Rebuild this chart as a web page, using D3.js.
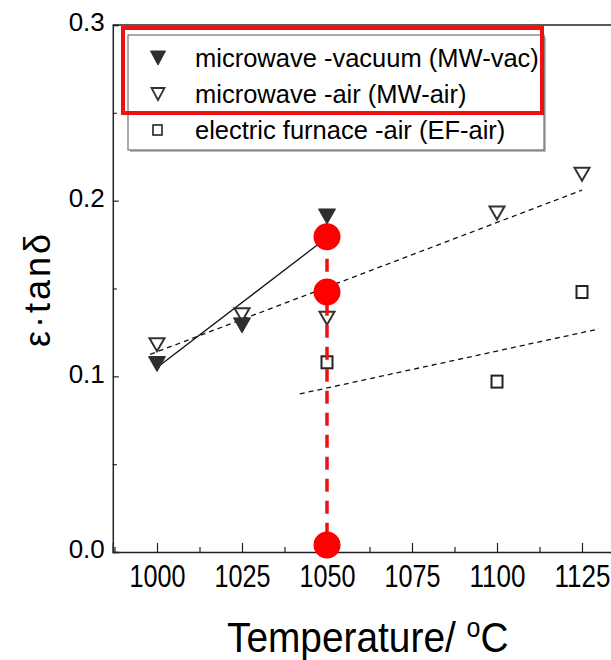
<!DOCTYPE html>
<html>
<head>
<meta charset="utf-8">
<script src="https://cdn.jsdelivr.net/npm/d3@7"></script>
<style>
  body { margin: 0; background: #fff; }
  svg { display: block; font-family: "Liberation Sans", Arial, sans-serif; }
</style>
</head>
<body>
<svg id="chart" width="611" height="660"></svg>
<script>
// measured values
var xTicks = [1000, 1025, 1050, 1075, 1100, 1125];
var xMinor = [987.5, 1012.5, 1037.5, 1062.5, 1087.5, 1112.5, 1137.5];
var yTicks = [0.0, 0.1, 0.2, 0.3];
var yMinor = [0.05, 0.15, 0.25];

var vacTemp = [1000, 1025, 1050];
var vacVal = [0.107, 0.129, 0.191];
var airTemp = [1000, 1025, 1050, 1100, 1125];
var airVal = [0.118, 0.135, 0.133, 0.193, 0.215];
var efTemp = [1050, 1100, 1125];
var efVal = [0.108, 0.097, 0.148];

// fitted lines (end points)
var vacFitTemp = [1000, 1050];
var vacFitVal = [0.105, 0.179];
var airFitTemp = [998, 1125];
var airFitVal = [0.1125, 0.206];
var efFitTemp = [1042, 1130];
var efFitVal = [0.090, 0.127];

// red highlight at 1050
var markTemp = [1050, 1050, 1050];
var markVal = [0.1795, 0.148, 0.004];

var legendLabels = ['microwave -vacuum (MW-vac)', 'microwave -air (MW-air)', 'electric furnace -air (EF-air)'];

var svg = d3.select('#chart');

var x = d3.scaleLinear().domain([987, 1135]).range([112.8, 616]);
var y = d3.scaleLinear().domain([0, 0.3]).range([552, 25]);

var ink = '#222';

// frame top line
svg.append('line')
    .attr('x1', x(987)).attr('x2', x(1135))
    .attr('y1', y(0.3)).attr('y2', y(0.3))
    .attr('stroke', ink).attr('stroke-width', 1.5);

// x axis
var gx = svg.append('g').attr('transform', 'translate(0,' + y(0) + ')');
gx.call(d3.axisBottom(x).tickValues(xTicks).tickSize(-9).tickPadding(13).tickFormat(d3.format('d')));
gx.append('g').call(d3.axisBottom(x).tickValues(xMinor).tickSize(-5).tickFormat(''))
    .select('.domain').remove();
gx.selectAll('.domain').attr('stroke', ink).attr('stroke-width', 1.5);
gx.selectAll('.tick line').attr('stroke', ink).attr('stroke-width', 1.2);
gx.selectAll('text')
    .attr('fill', '#000')
    .style('font-size', '31px')
    .attr('textLength', 56)
    .attr('lengthAdjust', 'spacingAndGlyphs');

// y axis
var gy = svg.append('g').attr('transform', 'translate(' + x(987) + ',0)');
gy.call(d3.axisLeft(y).tickValues(yTicks).tickSize(-6).tickPadding(8).tickFormat(d3.format('.1f')));
gy.append('g').call(d3.axisLeft(y).tickValues(yMinor).tickSize(-4).tickFormat(''))
    .select('.domain').remove();
gy.selectAll('.domain').attr('stroke', ink).attr('stroke-width', 1.5);
gy.selectAll('.tick line').attr('stroke', ink).attr('stroke-width', 1.2);
gy.selectAll('text')
    .attr('fill', '#000')
    .attr('dy', '0.22em')
    .style('font-size', '26px');

// axis titles
svg.append('text')
    .attr('transform', 'translate(50,289) rotate(-90)')
    .attr('text-anchor', 'middle')
    .attr('font-size', 36)
    .attr('letter-spacing', 3)
    .attr('fill', '#000')
    .text('ε·tanδ');

var xt = svg.append('text')
    .attr('transform', 'translate(227,652) scale(0.925,1)')
    .attr('font-size', 42)
    .attr('fill', '#000');
xt.append('tspan').text('Temperature/ ');
xt.append('tspan').attr('font-size', 27).attr('dy', -15).text('o');
xt.append('tspan').attr('dy', 15).text('C');

// fit lines
var line = d3.line().x(function (d) { return x(d[0]); }).y(function (d) { return y(d[1]); });
function pairs(t, v) { return t.map(function (d, i) { return [d, v[i]]; }); }

svg.append('path').datum(pairs(vacFitTemp, vacFitVal))
    .attr('d', line).attr('fill', 'none').attr('stroke', '#111').attr('stroke-width', 1.3);
svg.append('path').datum(pairs(airFitTemp, airFitVal))
    .attr('d', line).attr('fill', 'none').attr('stroke', '#111').attr('stroke-width', 1.3)
    .attr('stroke-dasharray', '5,4');
svg.append('path').datum(pairs(efFitTemp, efFitVal))
    .attr('d', line).attr('fill', 'none').attr('stroke', '#111').attr('stroke-width', 1.3)
    .attr('stroke-dasharray', '5,4');

// markers
function downTri(w, h) {
    return 'M' + (-w / 2) + ',' + (-h / 2) + 'L' + (w / 2) + ',' + (-h / 2) + 'L0,' + (h / 2) + 'Z';
}

svg.selectAll('.air').data(pairs(airTemp, airVal)).enter().append('path')
    .attr('class', 'air')
    .attr('transform', function (d) { return 'translate(' + x(d[0]) + ',' + y(d[1]) + ')'; })
    .attr('d', downTri(15, 13))
    .attr('fill', '#fff').attr('stroke', '#333').attr('stroke-width', 2);

svg.selectAll('.vac').data(pairs(vacTemp, vacVal)).enter().append('path')
    .attr('class', 'vac')
    .attr('transform', function (d) { return 'translate(' + x(d[0]) + ',' + y(d[1]) + ')'; })
    .attr('d', downTri(17, 15))
    .attr('fill', '#2e2e2e').attr('stroke', '#2e2e2e').attr('stroke-width', 1);

svg.selectAll('.ef').data(pairs(efTemp, efVal)).enter().append('rect')
    .attr('class', 'ef')
    .attr('x', function (d) { return x(d[0]) - 5.5; })
    .attr('y', function (d) { return y(d[1]) - 6; })
    .attr('width', 11).attr('height', 12)
    .attr('fill', '#fff').attr('stroke', '#222').attr('stroke-width', 2);

// legend
var leg = svg.append('g');
leg.append('rect').attr('x', 130).attr('y', 37).attr('width', 416).attr('height', 115)
    .attr('fill', '#bbb');
leg.append('rect').attr('x', 128).attr('y', 35).attr('width', 416).attr('height', 115)
    .attr('fill', '#fff').attr('stroke', '#555').attr('stroke-width', 1);

var rows = [58, 94, 130];
leg.append('path').attr('transform', 'translate(158,' + rows[0] + ')')
    .attr('d', downTri(15, 14)).attr('fill', '#2e2e2e').attr('stroke', '#2e2e2e');
leg.append('path').attr('transform', 'translate(158,' + rows[1] + ')')
    .attr('d', downTri(13, 12)).attr('fill', '#fff').attr('stroke', '#333').attr('stroke-width', 1.8);
leg.append('rect').attr('x', 153).attr('y', rows[2] - 5).attr('width', 9).attr('height', 10)
    .attr('fill', '#fff').attr('stroke', '#222').attr('stroke-width', 1.6);

leg.selectAll('.lt').data(legendLabels).enter().append('text')
    .attr('class', 'lt')
    .attr('x', 195)
    .attr('y', function (d, i) { return rows[i] + 9; })
    .attr('font-size', 25.5)
    .attr('fill', '#000')
    .text(function (d) { return d; });

// red highlight box
svg.append('rect').attr('x', 123).attr('y', 28).attr('width', 419).attr('height', 85)
    .attr('fill', 'none').attr('stroke', '#f01010').attr('stroke-width', 4);

// red dashed line and circles at 1050
svg.append('line')
    .attr('x1', x(markTemp[0])).attr('x2', x(markTemp[2]))
    .attr('y1', y(markVal[0])).attr('y2', y(markVal[2]))
    .attr('stroke', '#f01010').attr('stroke-width', 3.5)
    .attr('stroke-dasharray', '13,9');

svg.selectAll('.mark').data(pairs(markTemp, markVal)).enter().append('circle')
    .attr('class', 'mark')
    .attr('cx', function (d) { return x(d[0]); })
    .attr('cy', function (d) { return y(d[1]); })
    .attr('r', 13.5)
    .attr('fill', '#ff0000');
</script>
</body>
</html>
